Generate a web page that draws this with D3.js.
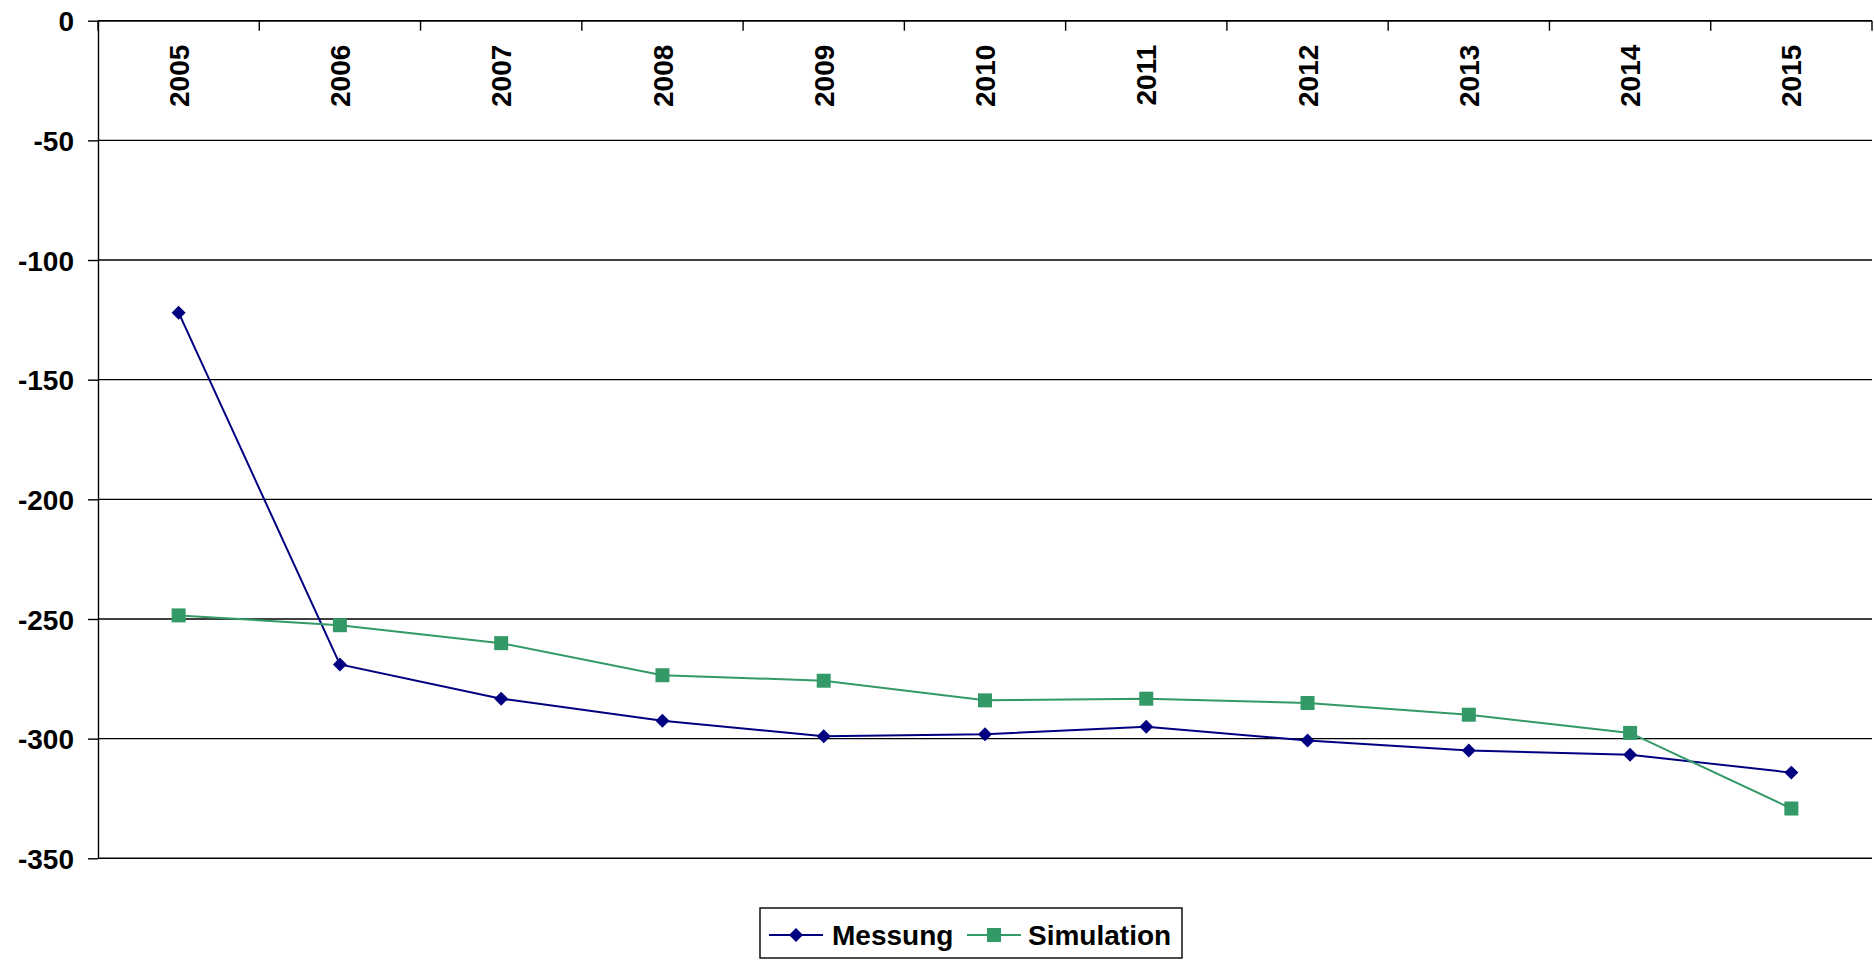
<!DOCTYPE html>
<html lang="de">
<head>
<meta charset="UTF-8">
<title>Messung vs Simulation</title>
<script src="https://d3js.org/d3.v7.min.js"></script>
<style>
  body { margin: 0; padding: 0; background: #fff; }
  svg { display: block; font-family: "Liberation Sans", Arial, sans-serif; font-weight: bold; }
  .grid line { stroke: #000; stroke-width: 1.4; }
  .yaxis text { font-size: 28px; fill: #000; }
  .yaxis line, .yaxis path { stroke: #000; stroke-width: 1.4; }
  .year { font-size: 28px; fill: #000; }
  .legend text { font-size: 28px; fill: #000; }
</style>
</head>
<body>
<svg id="chart" width="1874" height="960"></svg>
<script>
  // data
  const years = ["2005", "2006", "2007", "2008", "2009", "2010", "2011", "2012", "2013", "2014", "2015"];
  const messung = [-122, -269, -283.3, -292.5, -299, -298.2, -295, -300.8, -305, -306.7, -314.2];
  const simulation = [-248.5, -252.6, -260.1, -273.5, -275.8, -284, -283.3, -285.1, -290, -297.6, -329.2];
  const yTicks = [0, -50, -100, -150, -200, -250, -300, -350];

  const seriesNames = ["Messung", "Simulation"];
  const colors = { Messung: "#000080", Simulation: "#339966" };

  const plotLeft = 98, plotRight = 1872, plotTop = 20.7, plotBottom = 858.3;

  const svg = d3.select("#chart");

  const x = d3.scaleBand().domain(years).range([plotLeft, plotRight]).padding(0);
  const y = d3.scaleLinear().domain([-350, 0]).range([plotBottom, plotTop]);
  const cx = d => x(d) + x.bandwidth() / 2;

  // horizontal gridlines
  svg.append("g").attr("class", "grid")
    .selectAll("line")
    .data(yTicks)
    .join("line")
    .attr("x1", plotLeft).attr("x2", plotRight)
    .attr("y1", d => y(d)).attr("y2", d => y(d));

  // value axis on the left (plain hyphen for the minus, like the original)
  const yAxis = svg.append("g")
    .attr("class", "yaxis")
    .attr("transform", `translate(${plotLeft},0)`)
    .call(d3.axisLeft(y).tickValues(yTicks).tickFormat(d => String(d))
      .tickSize(10).tickSizeOuter(0).tickPadding(14));
  yAxis.selectAll("text").attr("dy", "0.36em");
  yAxis.attr("font-family", null).attr("font-size", null);

  // category axis sits at value 0 (top)
  const cat = svg.append("g");
  cat.append("line")
    .attr("x1", plotLeft).attr("x2", plotRight)
    .attr("y1", y(0)).attr("y2", y(0))
    .attr("stroke", "#000").attr("stroke-width", 1.4);
  cat.selectAll("line.tick")
    .data(years.concat(["end"]))
    .join("line")
    .attr("class", "tick")
    .attr("x1", (d, i) => plotLeft + i * x.bandwidth())
    .attr("x2", (d, i) => plotLeft + i * x.bandwidth())
    .attr("y1", y(0)).attr("y2", y(0) + 10)
    .attr("stroke", "#000").attr("stroke-width", 1.4);
  cat.selectAll("text")
    .data(years)
    .join("text")
    .attr("class", "year")
    .attr("text-anchor", "end")
    .attr("dy", "0.36em")
    .attr("transform", d => `translate(${cx(d)},${y(0) + 24}) rotate(-90)`)
    .text(d => d);

  // series
  const data = {
    Messung: years.map((yr, i) => ({ year: yr, value: messung[i] })),
    Simulation: years.map((yr, i) => ({ year: yr, value: simulation[i] }))
  };

  const line = d3.line().x(d => cx(d.year)).y(d => y(d.value));

  seriesNames.forEach(name => {
    svg.append("path")
      .datum(data[name])
      .attr("fill", "none")
      .attr("stroke", colors[name])
      .attr("stroke-width", 2)
      .attr("d", line);
  });

  const diamond = d3.symbol().type(d3.symbolSquare).size(98);
  const square = d3.symbol().type(d3.symbolSquare).size(196);

  svg.append("g").selectAll("path")
    .data(data.Simulation)
    .join("path")
    .attr("d", square)
    .attr("fill", colors.Simulation)
    .attr("transform", d => `translate(${cx(d.year)},${y(d.value)})`);

  svg.append("g").selectAll("path")
    .data(data.Messung)
    .join("path")
    .attr("d", diamond)
    .attr("fill", colors.Messung)
    .attr("transform", d => `translate(${cx(d.year)},${y(d.value)}) rotate(45)`);

  // legend
  const lg = svg.append("g").attr("class", "legend");
  lg.append("rect")
    .attr("x", 760).attr("y", 908)
    .attr("width", 422).attr("height", 50)
    .attr("fill", "#fff").attr("stroke", "#000").attr("stroke-width", 1.4);

  const items = [
    { name: "Messung", lx: 769, tx: 832 },
    { name: "Simulation", lx: 967, tx: 1028 }
  ];
  items.forEach(it => {
    lg.append("line")
      .attr("x1", it.lx).attr("x2", it.lx + 54)
      .attr("y1", 935).attr("y2", 935)
      .attr("stroke", colors[it.name]).attr("stroke-width", 2);
    lg.append("path")
      .attr("d", it.name === "Messung" ? diamond : square)
      .attr("fill", colors[it.name])
      .attr("transform", `translate(${it.lx + 27},935)` + (it.name === "Messung" ? " rotate(45)" : ""));
    lg.append("text")
      .attr("x", it.tx).attr("y", 935)
      .attr("dy", "0.36em")
      .text(it.name);
  });
</script>
</body>
</html>
